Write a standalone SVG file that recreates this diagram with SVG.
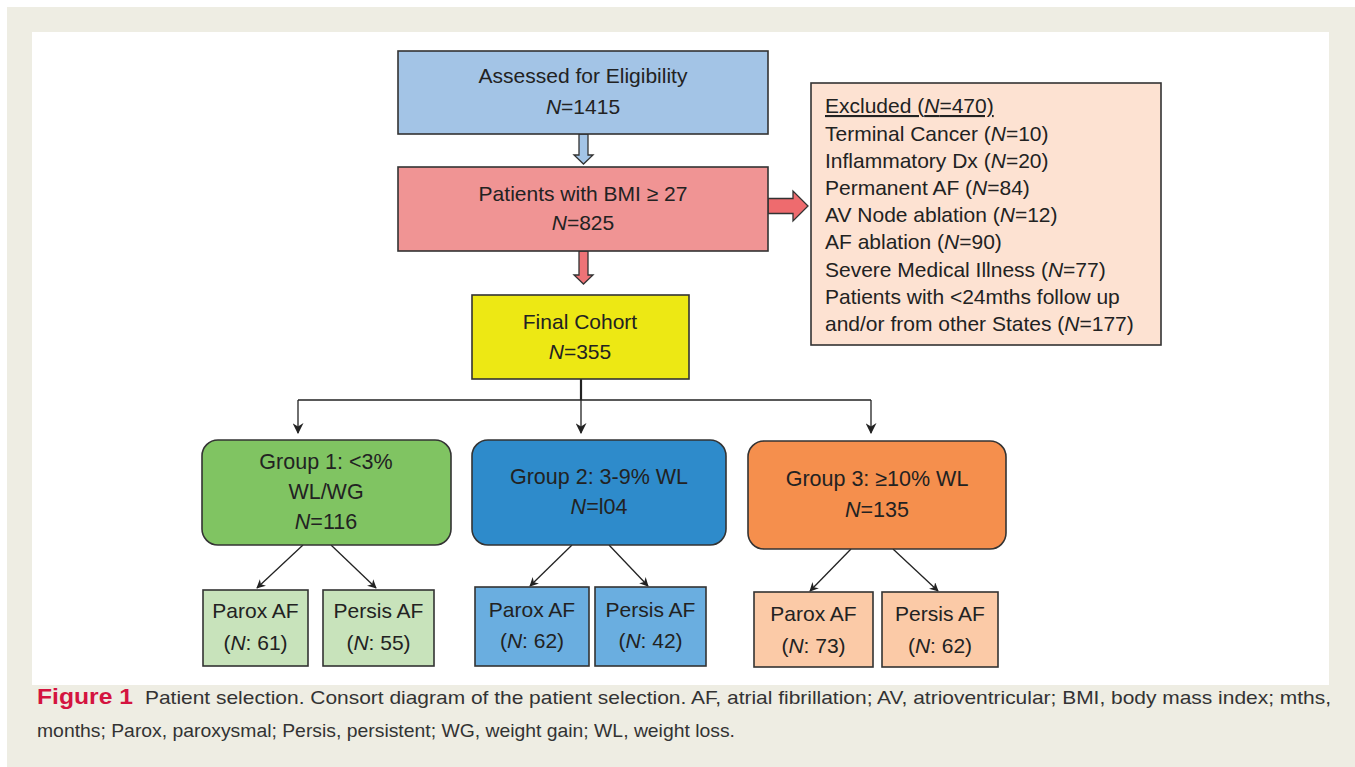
<svg xmlns="http://www.w3.org/2000/svg" width="1355" height="767" viewBox="0 0 1355 767">
<style>
.t{font-family:"Liberation Sans",Arial,sans-serif;font-size:21px;fill:#222;}
.c{text-anchor:middle;}
.g{font-size:21.5px;}
.s{font-size:21px;}
.box{stroke:#333;stroke-width:1.6;}
.ln{stroke:#222;stroke-width:1.3;fill:none;}
.cap{font-family:"Liberation Sans",Arial,sans-serif;font-size:18.5px;fill:#333;}
</style>
<defs>
<marker id="ah" viewBox="0 0 10 10" refX="9" refY="5" markerWidth="9" markerHeight="9" markerUnits="userSpaceOnUse" orient="auto">
<path d="M0,0 L10,5 L0,10 L3,5 z" fill="#222"/>
</marker>
<marker id="ah2" viewBox="0 0 10 10" refX="9" refY="5" markerWidth="11" markerHeight="11" markerUnits="userSpaceOnUse" orient="auto">
<path d="M0,0 L10,5 L0,10 L3,5 z" fill="#222"/>
</marker>
</defs>
<rect x="0" y="0" width="1355" height="767" fill="#ffffff"/>
<rect x="7" y="7" width="1348" height="760" fill="#eeede3"/>
<rect x="32" y="32" width="1297" height="653" fill="#ffffff"/>

<g id="connectors">
<path d="M579,134 L588,134 L588,155 L593,155 L583.5,164 L574,155 L579,155 z" fill="#a3c4e6" stroke="#333" stroke-width="1.3"/>
<path d="M579,251 L588,251 L588,275 L593,275 L583.5,284 L574,275 L579,275 z" fill="#ee7377" stroke="#333" stroke-width="1.3"/>
<path d="M768,198.5 L793,198.5 L793,191 L808,206 L793,221 L793,213.5 L768,213.5 z" fill="#ee6b6e" stroke="#333" stroke-width="1.3"/>
<line x1="581" y1="379" x2="581" y2="400" stroke="#222" stroke-width="2.2"/>
<line x1="298" y1="400" x2="871" y2="400" class="ln"/>
<line x1="298" y1="400" x2="298" y2="433" class="ln" marker-end="url(#ah2)"/>
<line x1="581" y1="400" x2="581" y2="433" class="ln" marker-end="url(#ah2)"/>
<line x1="871" y1="400" x2="871" y2="433" class="ln" marker-end="url(#ah2)"/>
<line x1="303" y1="545" x2="257" y2="588" class="ln" marker-end="url(#ah)"/>
<line x1="331" y1="545" x2="376" y2="588" class="ln" marker-end="url(#ah)"/>
<line x1="572" y1="545" x2="530" y2="586" class="ln" marker-end="url(#ah)"/>
<line x1="609" y1="545" x2="648" y2="586" class="ln" marker-end="url(#ah)"/>
<line x1="851" y1="549" x2="810" y2="591" class="ln" marker-end="url(#ah)"/>
<line x1="893" y1="549" x2="938" y2="591" class="ln" marker-end="url(#ah)"/>
</g>

<g id="assessed">
<rect x="398" y="51" width="370" height="83" fill="#a3c4e6" class="box"/>
<text class="t c" x="583" y="83">Assessed for Eligibility</text>
<text class="t c" x="583" y="114"><tspan font-style="italic">N</tspan>=1415</text>
</g>
<g id="bmi">
<rect x="398" y="167" width="370" height="84" fill="#f09494" class="box"/>
<text class="t c" x="583" y="201">Patients with BMI ≥ 27</text>
<text class="t c" x="583" y="230"><tspan font-style="italic">N</tspan>=825</text>
</g>
<g id="cohort">
<rect x="472" y="295" width="217" height="84" fill="#ede814" class="box"/>
<text class="t c" x="580" y="329">Final Cohort</text>
<text class="t c" x="580" y="359"><tspan font-style="italic">N</tspan>=355</text>
</g>
<g id="excluded">
<rect x="811" y="83" width="350" height="262" fill="#fde2d2" class="box"/>
<text class="t" x="825" y="113" text-decoration="underline">Excluded (<tspan font-style="italic">N</tspan>=470)</text>
<text class="t" x="825" y="141">Terminal Cancer (<tspan font-style="italic">N</tspan>=10)</text>
<text class="t" x="825" y="168">Inflammatory Dx (<tspan font-style="italic">N</tspan>=20)</text>
<text class="t" x="825" y="195">Permanent AF (<tspan font-style="italic">N</tspan>=84)</text>
<text class="t" x="825" y="222">AV Node ablation (<tspan font-style="italic">N</tspan>=12)</text>
<text class="t" x="825" y="249">AF ablation (<tspan font-style="italic">N</tspan>=90)</text>
<text class="t" x="825" y="277">Severe Medical Illness (<tspan font-style="italic">N</tspan>=77)</text>
<text class="t" x="825" y="304">Patients with &lt;24mths follow up</text>
<text class="t" x="825" y="331">and/or from other States (<tspan font-style="italic">N</tspan>=177)</text>
</g>

<g id="group1">
<rect x="202" y="440" width="249" height="105" rx="16" fill="#80c462" class="box"/>
<text class="t c g" x="326" y="469">Group 1: &lt;3%</text>
<text class="t c g" x="326" y="499">WL/WG</text>
<text class="t c g" x="326" y="529"><tspan font-style="italic">N</tspan>=116</text>
</g>
<g id="group2">
<rect x="472" y="440" width="254" height="105" rx="16" fill="#2e8bcb" class="box"/>
<text class="t c g" x="599" y="484">Group 2: 3-9% WL</text>
<text class="t c g" x="599" y="514"><tspan font-style="italic">N</tspan>=l04</text>
</g>
<g id="group3">
<rect x="748" y="441" width="258" height="108" rx="16" fill="#f58f4d" class="box"/>
<text class="t c g" x="877" y="486">Group 3: ≥10% WL</text>
<text class="t c g" x="877" y="517"><tspan font-style="italic">N</tspan>=135</text>
</g>

<g id="g1parox">
<rect x="203" y="590" width="105" height="76" fill="#c8e3bb" class="box"/>
<text class="t c s" x="255.5" y="618">Parox AF</text>
<text class="t c s" x="255.5" y="650">(<tspan font-style="italic">N</tspan>: 61)</text>
</g>
<g id="g1persis">
<rect x="323" y="590" width="111" height="76" fill="#c8e3bb" class="box"/>
<text class="t c s" x="378.5" y="618">Persis AF</text>
<text class="t c s" x="378.5" y="650">(<tspan font-style="italic">N</tspan>: 55)</text>
</g>
<g id="g2parox">
<rect x="475" y="587" width="114" height="79" fill="#6aaee0" class="box"/>
<text class="t c s" x="532" y="617">Parox AF</text>
<text class="t c s" x="532" y="648">(<tspan font-style="italic">N</tspan>: 62)</text>
</g>
<g id="g2persis">
<rect x="595" y="587" width="111" height="79" fill="#6aaee0" class="box"/>
<text class="t c s" x="650.5" y="617">Persis AF</text>
<text class="t c s" x="650.5" y="648">(<tspan font-style="italic">N</tspan>: 42)</text>
</g>
<g id="g3parox">
<rect x="754" y="592" width="119" height="75" fill="#fbcaa7" class="box"/>
<text class="t c s" x="813.5" y="621">Parox AF</text>
<text class="t c s" x="813.5" y="653">(<tspan font-style="italic">N</tspan>: 73)</text>
</g>
<g id="g3persis">
<rect x="882" y="592" width="116" height="75" fill="#fbcaa7" class="box"/>
<text class="t c s" x="940" y="621">Persis AF</text>
<text class="t c s" x="940" y="653">(<tspan font-style="italic">N</tspan>: 62)</text>
</g>

<g id="caption">
<text class="cap" x="37" y="704" font-weight="bold" style="fill:#d4143f;font-size:22px" textLength="96" lengthAdjust="spacingAndGlyphs">Figure 1</text>
<text class="cap" x="145" y="704" textLength="1186" lengthAdjust="spacingAndGlyphs">Patient selection. Consort diagram of the patient selection. AF, atrial fibrillation; AV, atrioventricular; BMI, body mass index; mths,</text>
<text class="cap" x="37" y="737" textLength="698" lengthAdjust="spacingAndGlyphs">months; Parox, paroxysmal; Persis, persistent; WG, weight gain; WL, weight loss.</text>
</g>
</svg>
